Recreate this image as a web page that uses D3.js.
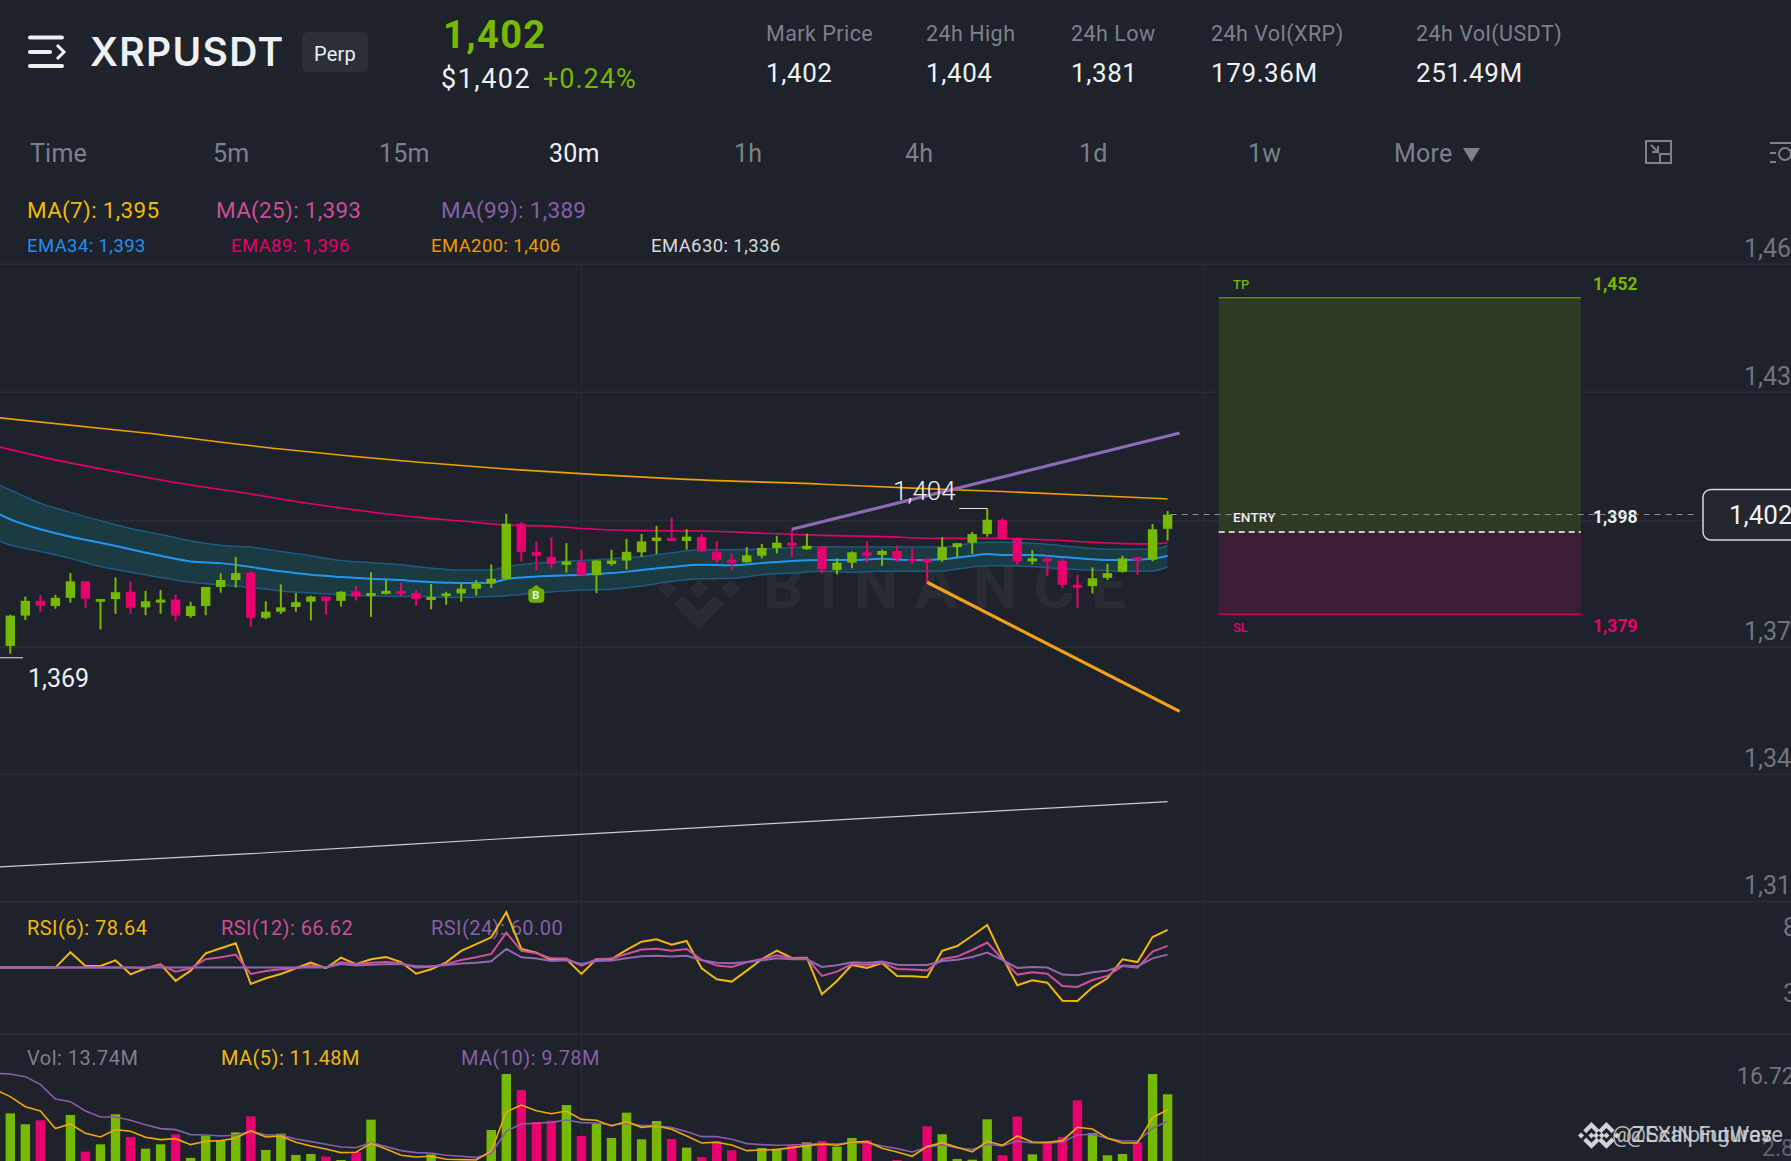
<!DOCTYPE html>
<html>
<head>
<meta charset="utf-8">
<title>XRPUSDT</title>
<script src="https://cdn.jsdelivr.net/npm/d3@7/dist/d3.min.js"></script>
<style>
html, body { margin: 0; padding: 0; background: #1e222a; overflow: hidden; }
svg { display: block; }
text { font-family: Roboto, "Noto Sans", sans-serif; }
</style>
</head>
<body>
<div id="chart"></div>
<script>
// candles, index 0..77
var candleOpen = [1371.7,1378.7,1382.1,1380.9,1382.8,1386.6,1381.9,1382.5,1384.2,1380.6,1381.7,1382.4,1378.6,1380.9,1385.3,1386.9,1388.6,1378.2,1379.6,1380.7,1381.9,1383.1,1382.1,1384.3,1383.2,1383.7,1384.4,1383.9,1382.3,1383.2,1383.8,1384.9,1386.1,1387.2,1399.9,1393.4,1392.2,1390.4,1391.1,1388.0,1390.6,1391.4,1393.3,1395.9,1396.6,1395.9,1396.8,1393.4,1391.6,1391.0,1392.5,1394.3,1395.5,1394.0,1394.6,1389.2,1390.9,1393.3,1392.7,1393.6,1391.7,1391.7,1391.5,1394.5,1395.5,1397.5,1400.8,1396.5,1391.2,1391.9,1391.3,1385.8,1385.5,1387.4,1388.8,1392.1,1391.6,1398.7];
var candleClose = [1378.7,1382.1,1381.0,1382.8,1386.6,1382.6,1382.5,1384.1,1380.5,1382.0,1382.4,1378.7,1380.9,1385.3,1386.9,1388.5,1378.2,1379.6,1380.6,1381.8,1383.1,1382.1,1384.2,1383.1,1383.9,1384.4,1383.7,1382.5,1383.0,1383.8,1384.9,1386.0,1387.2,1399.9,1393.4,1392.5,1390.6,1391.2,1388.0,1391.4,1391.4,1393.4,1395.8,1396.7,1395.9,1396.9,1393.5,1391.5,1390.9,1392.6,1394.3,1395.5,1394.8,1394.8,1389.4,1390.9,1393.3,1392.5,1393.6,1391.8,1391.2,1391.0,1394.5,1395.4,1397.5,1400.8,1396.5,1391.2,1391.9,1391.2,1385.8,1385.1,1387.3,1388.5,1391.9,1391.4,1398.6,1402.0];
var candleHigh = [1378.9,1383.1,1383.4,1383.5,1388.5,1386.6,1382.5,1387.5,1386.6,1384.4,1384.6,1383.5,1381.9,1385.3,1388.4,1392.2,1388.9,1382.0,1385.9,1383.9,1383.3,1383.2,1384.3,1385.5,1388.7,1386.9,1386.3,1384.6,1386.0,1384.2,1386.1,1386.9,1390.5,1402.2,1400.3,1395.8,1396.7,1395.4,1393.9,1391.5,1393.9,1396.4,1397.5,1399.4,1401.3,1398.6,1397.5,1395.9,1392.9,1394.5,1395.2,1397.1,1398.6,1397.6,1394.6,1391.9,1393.5,1395.9,1393.9,1394.9,1394.1,1391.8,1396.8,1395.5,1398.0,1403.4,1401.1,1396.7,1393.8,1392.4,1391.9,1388.0,1389.8,1390.6,1392.5,1392.2,1399.8,1402.8];
var candleLow = [1369.9,1377.7,1379.6,1380.3,1381.7,1380.5,1375.5,1379.1,1379.1,1378.8,1379.1,1377.5,1378.2,1378.8,1384.0,1385.2,1376.1,1377.9,1379.1,1379.6,1377.6,1378.9,1380.8,1382.2,1378.4,1383.6,1383.2,1380.9,1380.1,1381.2,1381.9,1383.3,1385.1,1386.9,1391.1,1389.1,1389.4,1388.6,1388.0,1383.9,1390.2,1389.3,1392.2,1392.9,1395.9,1393.9,1393.4,1390.8,1389.2,1390.9,1391.9,1393.0,1392.2,1393.9,1388.4,1388.2,1389.6,1390.9,1390.2,1391.1,1390.6,1386.4,1391.1,1392.2,1392.9,1396.9,1396.5,1390.3,1390.5,1387.9,1385.0,1380.5,1383.8,1386.9,1388.6,1388.1,1391.2,1396.0];

// volume in millions, bars below the window edge are guesses
var volume = [10.95,9.34,9.93,3.0,10.71,5.34,6.41,10.81,7.48,5.77,6.41,7.88,4.41,7.68,6.9,8.17,10.51,5.58,7.97,4.85,4.99,4.6,4.11,5.29,10.02,3.4,3.0,3.2,4.94,3.2,2.8,2.5,8.51,16.72,14.37,9.68,9.88,12.17,7.63,9.44,7.34,11.05,7.14,9.83,7.19,5.92,4.55,6.85,5.53,3.0,5.87,5.77,6.41,6.7,6.9,6.07,7.34,7.0,3.2,4.11,3.4,9.05,7.88,4.26,4.16,10.07,4.8,10.46,4.94,6.7,7.48,12.86,8.07,4.8,4.99,6.7,16.72,13.74];

// these two start one candle left of the window (index -1)
var volMa5 = [14.4,13.40,11.93,11.29,8.71,9.39,8.02,7.48,8.56,8.32,7.44,7.09,7.24,6.36,6.85,6.95,7.29,8.41,7.48,7.63,6.70,6.17,5.73,5.19,5.24,6.56,5.73,4.80,4.55,4.65,4.21,4.16,4.11,5.43,11.15,12.17,11.34,10.90,11.29,10.07,9.93,9.10,9.73,8.90,9.10,8.61,7.63,6.61,6.70,6.31,5.48,5.58,5.63,5.92,6.21,6.41,6.26,6.70,6.80,5.82,5.29,4.65,6.07,6.65,5.97,5.29,6.85,6.26,7.63,6.75,6.70,6.95,8.90,8.66,7.29,6.61,6.61,10.32,11.48];
var volMa10 = [16.8,16.72,16.33,15.20,13.05,12.66,11.29,10.42,10.42,9.93,9.29,8.71,8.56,7.83,7.78,7.63,7.73,8.32,7.78,7.78,7.19,6.80,6.41,6.02,5.92,6.65,6.07,5.48,5.19,5.14,4.80,4.65,4.46,5.09,8.32,9.39,9.49,9.63,9.98,9.59,9.54,9.24,9.49,9.15,9.15,8.85,8.27,7.53,7.53,7.14,6.51,6.36,6.26,6.31,6.41,6.51,6.46,6.65,6.65,6.17,5.77,5.29,5.97,6.36,5.87,5.63,6.41,6.17,6.90,6.61,6.56,6.75,7.78,7.88,7.29,6.90,6.90,8.75,9.78];

// rsi, index -1..77
var rsi6 = [50.2,50.2,50.2,50.2,50.2,61.8,51.4,51.4,55.7,45.1,49.7,52.7,40.1,47.9,61.0,64.8,68.6,37.8,42.1,45.4,49.7,53.9,49.7,57.7,52.7,56.5,58.2,54.4,45.6,48.9,54.2,62.8,68.0,73.1,92.0,64.3,61.5,56.0,56.5,45.4,56.7,56.7,63.5,69.8,71.6,67.5,70.3,49.7,41.3,39.6,47.9,56.5,63.0,57.5,57.7,30.0,40.1,52.2,49.9,53.7,43.9,43.6,42.9,62.8,66.5,74.3,82.4,58.5,36.8,40.6,38.8,25.2,25.0,35.3,42.1,56.5,54.4,73.3,78.64];
var rsi12 = [50.2,50.2,50.2,50.2,50.2,50.2,50.2,50.2,50.2,50.2,49.7,52.2,47.1,49.7,56.5,58.0,60.0,45.4,47.6,48.9,49.7,51.7,50.2,54.2,52.9,53.9,54.4,53.4,50.2,50.9,52.7,56.0,58.0,60.5,76.6,62.8,61.0,57.2,57.0,51.7,56.5,57.0,60.5,63.8,64.5,63.0,64.3,56.0,51.7,50.7,54.2,56.7,59.5,57.2,57.2,43.9,47.1,52.9,52.2,53.9,49.2,48.7,48.1,56.7,58.5,63.5,69.1,56.7,44.9,46.6,45.6,36.3,35.6,40.8,43.9,51.4,50.2,62.3,66.62];
var rsi24 = [50.2,50.2,50.2,50.2,50.2,50.2,50.2,50.2,50.2,50.2,50.2,50.2,50.2,50.2,50.2,50.2,50.2,50.2,50.2,50.2,50.2,50.2,50.2,52.9,51.7,52.4,52.7,52.7,51.2,51.2,52.2,53.2,53.9,55.0,64.3,58.0,57.0,55.2,55.7,52.9,55.2,55.5,57.2,58.7,59.2,58.5,59.2,55.7,53.9,53.4,54.4,55.7,57.2,56.5,56.5,50.7,51.9,54.2,53.9,54.7,52.4,52.2,52.2,55.2,56.2,58.2,61.5,56.0,49.9,50.7,50.2,44.9,44.4,46.6,47.9,51.7,51.2,57.2,60.0];

// emas, sampled at a few candles
var ema200Idx = [-1,9,18,27,33,39,45,54,60,66,72,77];
var ema200 = [1424.4,1420.8,1417.1,1414.1,1412.5,1411.2,1410.1,1409.0,1408.1,1407.3,1406.4,1405.6];
var ema89Idx = [-1,3,7,12,15,19,24,27,30,33,36,38,42,46,50,54,58,62,66,68,70,72,74,76,77];
var ema89 = [1417.8,1414.6,1411.9,1408.8,1407.3,1405.0,1402.6,1401.4,1400.5,1399.6,1399.3,1398.8,1398.3,1398.2,1397.7,1397.2,1396.9,1396.5,1396.5,1396.3,1396.0,1395.6,1395.3,1395.2,1395.5];
var ema630Idx = [-1,16,33,50,67,77];
var ema630 = [1320.7,1323.8,1327.3,1330.6,1333.9,1335.8];
var bandIdx = [-1,0,2,4,6,8,10,12,14,16,18,20,22,24,26,27,30,32,33,35,38,40,42,44,46,48,50,52,54,56,58,60,62,64,65,66,68,70,72,74,76,77];
var ema34 = [1402.5,1400.9,1398.6,1396.9,1395.5,1394.0,1392.5,1391.2,1390.8,1389.9,1388.9,1388.1,1387.6,1387.2,1386.9,1386.6,1386.2,1386.3,1387.1,1387.7,1388.1,1388.5,1389.2,1389.9,1390.4,1390.3,1390.8,1391.3,1391.5,1391.5,1391.8,1391.5,1391.7,1392.5,1392.9,1392.7,1392.7,1392.2,1391.7,1391.5,1391.8,1392.5];
var bandUpper = [1409.2,1407.7,1404.6,1402.5,1400.6,1398.8,1397.4,1395.9,1394.9,1394.5,1393.5,1392.5,1391.4,1390.9,1390.4,1390.0,1389.2,1389.2,1390.0,1390.8,1391.4,1391.8,1392.3,1393.2,1393.9,1393.9,1394.0,1394.4,1394.6,1394.5,1394.5,1394.5,1394.5,1395.4,1395.6,1395.6,1395.4,1394.8,1394.2,1394.0,1394.0,1394.8];
var bandLower = [1396.2,1395.0,1393.5,1391.9,1390.0,1388.7,1387.5,1386.4,1385.8,1385.2,1384.4,1383.9,1383.5,1383.2,1383.1,1383.1,1382.9,1383.1,1383.3,1383.9,1384.6,1384.8,1385.5,1386.6,1387.2,1387.3,1388.1,1388.5,1388.9,1388.7,1388.9,1388.9,1389.0,1389.9,1390.2,1390.2,1390.0,1389.5,1389.2,1388.9,1389.0,1389.9];

// drawn annotations
var trendUpIdx = [52, 77.8], trendUp = [1398.6, 1420.8];
var trendDownIdx = [61, 77.8], trendDown = [1386.4, 1356.6];
var tradeIdx = [80.4, 104.5];
var tradeTP = 1452, tradeEntry = 1398, tradeSL = 1379, lastPrice = 1402;

// axis
var priceTicks = [1459.8, 1430.3, 1400.7, 1371.5, 1342.2, 1312.9];
var priceTickLabels = ["1,460", "1,430", "", "1,372", "1,342", "1,313"];
var rsiTicks = [80, 30];
var gridIdx = [38, 79.4];

// header
var tabs = ["Time", "5m", "15m", "30m", "1h", "4h", "1d", "1w", "More"];
var tabX = [30, 213, 379, 549, 734, 905, 1079, 1248, 1394];
var statLabels = ["Mark Price", "24h High", "24h Low", "24h Vol(XRP)", "24h Vol(USDT)"];
var statValues = ["1,402", "1,404", "1,381", "179.36M", "251.49M"];
var statX = [766, 926, 1071, 1211, 1416];

var W = 1791, H = 1161;
var green = "#76b900", pink = "#e9006f", grey = "#7b818b", white = "#eef0f2";
var yellow = "#f0b90b", rose = "#c94f96", violet = "#8560a8";

var svg = d3.select("#chart").append("svg").attr("width", W).attr("height", H);
svg.append("rect").attr("width", W).attr("height", H).attr("fill", "#1e222a");

var x = d3.scaleLinear().domain([0, 77]).range([10.3, 1167.6]);
var y = d3.scaleLinear().domain([1452, 1379]).range([297.7, 614.3]);
var yRsi = d3.scaleLinear().domain([0, 100]).range([1034, 901.7]);
var yVol = d3.scaleLinear().domain([0, 16.72]).range([1188, 1074]);

function label(t, px, py, size, color, weight, spacing) {
  return svg.append("text").attr("x", px).attr("y", py).attr("font-size", size)
    .attr("fill", color).attr("font-weight", weight || 400).attr("letter-spacing", spacing || 0).text(t);
}

// grid
var fmt = d3.scaleOrdinal().domain(priceTicks).range(priceTickLabels);
var yAxis = d3.axisRight(y).tickValues(priceTicks).tickSize(W).tickFormat(function(d) { return fmt(d) });
var ga = svg.append("g").call(yAxis);
ga.select(".domain").remove();
ga.selectAll("line").attr("stroke", "#282c35").attr("stroke-width", 1.5);
ga.selectAll("text").attr("x", 1744).attr("dy", -7).attr("font-size", 25).attr("fill", "#6f757f").style("font-family", "Roboto");
svg.append("line").attr("x1", 0).attr("x2", W).attr("y1", yRsi(0)).attr("y2", yRsi(0)).attr("stroke", "#282c35").attr("stroke-width", 1.5);

svg.selectAll("vgrid").data(gridIdx).enter().append("line")
  .attr("x1", function(d) { return x(d) }).attr("x2", function(d) { return x(d) })
  .attr("y1", 265).attr("y2", H).attr("stroke", "#282c35").attr("stroke-width", 1);

var rsiAxis = svg.append("g").selectAll("t").data(rsiTicks).enter().append("text")
  .attr("x", 1783).attr("y", function(d) { return yRsi(d) + 8 }).attr("font-size", 25).attr("fill", "#6f757f")
  .text(function(d) { return d });

// trade box
var boxX = x(tradeIdx[0]), boxW = x(tradeIdx[1]) - x(tradeIdx[0]);
svg.append("rect").attr("x", boxX).attr("width", boxW).attr("y", y(tradeTP)).attr("height", y(tradeEntry) - y(tradeTP)).attr("fill", "#2f3a24");
svg.append("rect").attr("x", boxX).attr("width", boxW).attr("y", y(tradeEntry)).attr("height", y(tradeSL) - y(tradeEntry)).attr("fill", "#3d1f35");
svg.append("line").attr("x1", boxX).attr("x2", boxX + boxW).attr("y1", y(tradeTP)).attr("y2", y(tradeTP)).attr("stroke", "#5b8c0a").attr("stroke-width", 1.5);
svg.append("line").attr("x1", boxX).attr("x2", boxX + boxW).attr("y1", y(tradeSL)).attr("y2", y(tradeSL)).attr("stroke", "#c9005f").attr("stroke-width", 1.5);
svg.append("line").attr("x1", boxX).attr("x2", boxX + boxW).attr("y1", y(tradeEntry)).attr("y2", y(tradeEntry)).attr("stroke", "#c9c9ce").attr("stroke-width", 2).attr("stroke-dasharray", "6 4");
label("TP", 1233, 289, 13, green, 500);
label("ENTRY", 1233, 522, 13.5, white, 500, .2);
label("SL", 1233, 632, 13, pink, 500);
label("1,452", 1593, 290, 17.5, green, 700);
label("1,398", 1593, 523, 17.5, white, 700);
label("1,379", 1593, 632, 17.5, pink, 700);

// watermark
var logoPath = "M16.624 13.9202l2.7175 2.7154-7.353 7.353-7.353-7.352 2.7175-2.7164 4.6355 4.6595 4.6356-4.6595zm4.6366-4.6366L24 12l-2.7154 2.7164L18.5682 12l2.6924-2.7164zm-9.272.001l2.7163 2.6914-2.7164 2.7174v-.001L9.2721 12l2.7164-2.7154zm-9.2722-.001L5.4088 12l-2.6914 2.6924L0 12l2.7164-2.7164zM11.9885.0115l7.353 7.329-2.7174 2.7154-4.6356-4.6356-4.6355 4.6595-2.7174-2.7154 7.353-7.353z";
svg.append("path").attr("d", logoPath).attr("transform", "translate(658,548) scale(3.4)").attr("fill", "#282c35");
label("BINANCE", 763, 608, 63, "#282c35", 700, 16);

// ema band
var band = bandIdx.map(function(d, i) { return {i: d, up: bandUpper[i], lo: bandLower[i], mid: ema34[i]} });
var area = d3.area().x(function(d) { return x(d.i) }).y0(function(d) { return y(d.lo) }).y1(function(d) { return y(d.up) }).curve(d3.curveMonotoneX);
svg.append("path").datum(band).attr("d", area).attr("fill", "#1c3a42");

function priceLine(idx, vals, color, width) {
  var pts = idx.map(function(d, i) { return [x(d), y(vals[i])] });
  svg.append("path").datum(pts).attr("d", d3.line().curve(d3.curveMonotoneX)).attr("fill", "none")
    .attr("stroke", color).attr("stroke-width", width);
}
priceLine(bandIdx, bandUpper, "#1d5a85", 1.5);
priceLine(bandIdx, bandLower, "#1d5a85", 1.5);
priceLine(bandIdx, ema34, "#2196f3", 2);
priceLine(ema89Idx, ema89, "#e6006e", 1.6);
priceLine(ema200Idx, ema200, "#f0a000", 1.6);
priceLine(ema630Idx, ema630, "#c9ccd1", 1.2);

// candles
var candles = candleOpen.map(function(d, i) { return {i: i, o: d, c: candleClose[i], h: candleHigh[i], l: candleLow[i], v: volume[i]} });
var bodyW = 9.4;
function tone(d) { return d.c >= d.o ? green : pink }
svg.selectAll("wick").data(candles).enter().append("line")
  .attr("x1", function(d) { return x(d.i) }).attr("x2", function(d) { return x(d.i) })
  .attr("y1", function(d) { return y(d.h) }).attr("y2", function(d) { return y(d.l) })
  .attr("stroke", tone).attr("stroke-width", 2);
svg.selectAll("body").data(candles).enter().append("rect")
  .attr("x", function(d) { return x(d.i) - bodyW / 2 }).attr("width", bodyW)
  .attr("y", function(d) { return y(Math.max(d.o, d.c)) })
  .attr("height", function(d) { return Math.abs(y(d.o) - y(d.c)) })
  .attr("fill", tone);

// trend lines
priceLine(trendUpIdx, trendUp, "#8f69b8", 3.2);
priceLine(trendDownIdx, trendDown, "#f0a31a", 3.2);

// B marker
var bx = x(35), by = y(1385.8);
svg.append("path").attr("fill", "#6fae00")
  .attr("d", "M" + bx + "," + by + "l5,4 q3,0 3,3 v7 q0,4 -4,4 h-8 q-4,0 -4,-4 v-7 q0,-3 3,-3 z");
label("B", bx - 4, by + 14.5, 11, white, 700);

// low and high labels
svg.append("line").attr("x1", 0).attr("x2", 23).attr("y1", y(1369.9) + 4).attr("y2", y(1369.9) + 4).attr("stroke", "#e8e8ea").attr("stroke-width", 1);
label("1,369", 28, 687, 25, white, 400);
svg.append("polyline").attr("fill", "none").attr("stroke", "#e8e8ea").attr("stroke-width", 1)
  .attr("points", (x(65) - 28) + "," + y(1403.4) + " " + x(65) + "," + y(1403.4));
label("1,404", 893, 500, 26, white, 300);

// last price
svg.append("line").attr("x1", x(77) + 3).attr("x2", 1698).attr("y1", y(lastPrice)).attr("y2", y(lastPrice))
  .attr("stroke", "#8b9098").attr("stroke-width", 1).attr("stroke-dasharray", "6 5");
svg.append("rect").attr("x", 1703).attr("y", 489.5).attr("width", 110).attr("height", 50.5).attr("rx", 8)
  .attr("fill", "#232730").attr("stroke", "#d6d8dc").attr("stroke-width", 1.5);
label("1,402", 1729, 524, 26, white, 400);

// rsi
function panelLine(vals, scale, color, width) {
  var line = d3.line().x(function(d, i) { return x(i - 1) }).y(function(d) { return scale(d) });
  svg.append("path").datum(vals).attr("d", line).attr("fill", "none").attr("stroke", color).attr("stroke-width", width);
}
label("RSI(6): 78.64", 27, 935, 20, yellow, 400, .44);
label("RSI(12): 66.62", 221, 935, 20, rose, 400, .44);
label("RSI(24): 60.00", 431, 935, 20, violet, 400, .44);
panelLine(rsi6, yRsi, "#f2b70f", 2);
panelLine(rsi12, yRsi, "#cf4fa0", 2);
panelLine(rsi24, yRsi, "#9467b5", 2);

// volume
label("Vol: 13.74M", 27, 1065, 20, grey, 400, .5);
label("MA(5): 11.48M", 221, 1065, 20, yellow, 400, .44);
label("MA(10): 9.78M", 461, 1065, 20, violet, 400, .44);
svg.selectAll("vol").data(candles).enter().append("rect")
  .attr("x", function(d) { return x(d.i) - bodyW / 2 }).attr("width", bodyW)
  .attr("y", function(d) { return yVol(d.v) })
  .attr("height", function(d) { return yVol(0) - yVol(d.v) })
  .attr("fill", tone);
panelLine(volMa10, yVol, "#8560a8", 1.6);
panelLine(volMa5, yVol, "#f0a80a", 1.6);
label("16.72M", 1737, 1084, 23, "#6f757f", 400);
label("2.86M", 1762, 1156, 23, "#5f656f", 400);

// source marks at bottom right
[0, 15].forEach(function(dx) {
  svg.append("path").attr("d", logoPath).attr("fill", "#cfd3d8")
    .attr("transform", "translate(" + (1578 + dx) + ",1122) scale(1.12)");
});
label("@ZEXIN Futures", 1612, 1142, 22, "#d3d6da", 400).attr("opacity", .85);
label("@ScalpingWave", 1626, 1142, 22, "#d3d6da", 400).attr("opacity", .85);

// header
svg.append("rect").attr("x", 28).attr("y", 35.5).attr("width", 36).attr("height", 4).attr("rx", 2).attr("fill", white);
svg.append("rect").attr("x", 28).attr("y", 50).attr("width", 24).attr("height", 4).attr("rx", 2).attr("fill", white);
svg.append("rect").attr("x", 28).attr("y", 64).attr("width", 36).attr("height", 4).attr("rx", 2).attr("fill", white);
svg.append("path").attr("d", "M57,45 l7,7 l-7,7").attr("fill", "none").attr("stroke", white).attr("stroke-width", 3);
label("XRPUSDT", 90, 66, 39, white, 600, 1.3).style("font-family", "Inter");
svg.append("rect").attr("x", 302).attr("y", 32).attr("width", 66).attr("height", 40).attr("rx", 6).attr("fill", "#2b2f38");
label("Perp", 314, 61, 20, white, 400, .2);
label("1,402", 443, 48, 38, green, 700, 1.4);
label("$1,402", 441, 88, 27, white, 400, 1.5);
label("+0.24%", 543, 88, 27, green, 400, 1);

svg.selectAll("stat").data(statLabels).enter().append("text")
  .attr("x", function(d, i) { return statX[i] }).attr("y", 41).attr("font-size", 21.5).attr("fill", grey).attr("letter-spacing", .45)
  .text(function(d) { return d });
svg.selectAll("statv").data(statValues).enter().append("text")
  .attr("x", function(d, i) { return statX[i] }).attr("y", 82).attr("font-size", 26).attr("fill", white).attr("letter-spacing", .6)
  .text(function(d) { return d });

svg.selectAll("tab").data(tabs).enter().append("text")
  .attr("x", function(d, i) { return tabX[i] }).attr("y", 162).attr("font-size", 25).attr("letter-spacing", .2)
  .attr("fill", function(d) { return d == "30m" ? white : grey })
  .text(function(d) { return d });
svg.append("path").attr("d", "M1463,148 h17 l-8.5,14 z").attr("fill", grey);

svg.append("path").attr("fill", "none").attr("stroke", grey).attr("stroke-width", 2)
  .attr("d", "M1646,141 h25 v22 h-25 z M1660,163 v-9 h11 M1651,145 l7,7 M1658,146 v6 h-6");
svg.append("path").attr("fill", "none").attr("stroke", grey).attr("stroke-width", 2)
  .attr("d", "M1770,143 h21 M1770,153 h6 M1770,162 h6");
svg.append("circle").attr("cx", 1785).attr("cy", 154).attr("r", 6).attr("fill", "none").attr("stroke", grey).attr("stroke-width", 2);

label("MA(7): 1,395", 27, 218, 22.5, yellow, 400, .3);
label("MA(25): 1,393", 216, 218, 22.5, rose, 400, .3);
label("MA(99): 1,389", 441, 218, 22.5, violet, 400, .3);
label("EMA34: 1,393", 27, 252, 18.5, "#1e8fef", 400, .4);
label("EMA89: 1,396", 231, 252, 18.5, "#e6006e", 400, .4);
label("EMA200: 1,406", 431, 252, 18.5, "#ef9a00", 400, .4);
label("EMA630: 1,336", 651, 252, 18.5, "#d8dade", 400, .4);
</script>
</body>
</html>
